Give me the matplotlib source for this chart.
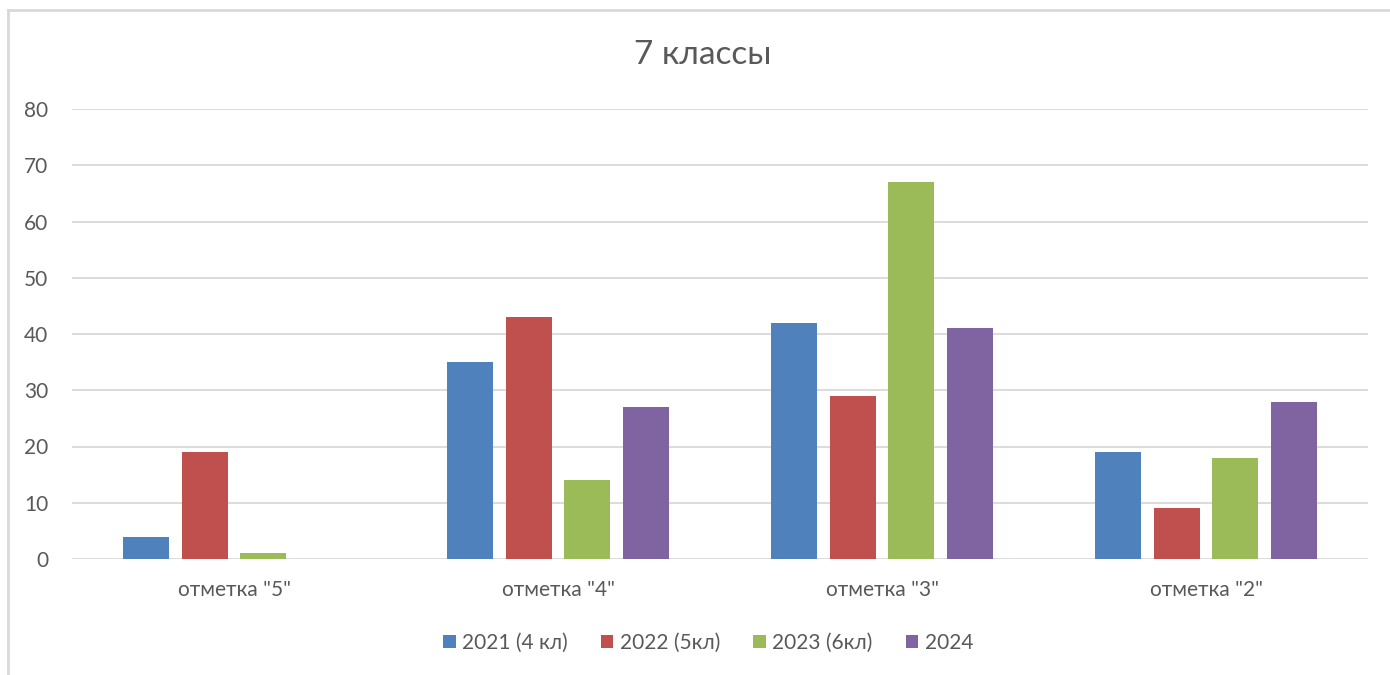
import numpy as np
import matplotlib.pyplot as plt
from matplotlib.lines import Line2D

categories = ['отметка "5"', 'отметка "4"', 'отметка "3"', 'отметка "2"']
series = ['2021 (4 кл)', '2022 (5кл)', '2023 (6кл)', '2024']
v2021 = [4, 35, 42, 19]
v2022 = [19, 43, 29, 9]
v2023 = [1, 14, 67, 18]
v2024 = [0, 27, 41, 28]
colors = ['#4F81BD', '#C0504D', '#9BBB59', '#8064A2']

plt.rcParams['font.family'] = ['Lato', 'DejaVu Sans']

fig = plt.figure(figsize=(13.9, 6.75), dpi=100)
ax = fig.add_axes([72/1390, 1 - 559/675, 1296/1390, 450/675])

x = np.arange(len(categories))
step = 0.182
width = 0.142
for i, (vals, name) in enumerate(zip([v2021, v2022, v2023, v2024], series)):
    ax.bar(x + (i - 1.5) * step, vals, width, color=colors[i], label=name, zorder=3)

ax.set_xlim(-0.5, len(categories) - 0.5)
ax.set_ylim(0, 80)
ax.set_yticks(range(0, 81, 10))
ax.set_xticks(x)
ax.set_xticklabels(categories)
ax.grid(axis='y', color='#d9d9d9', linewidth=1.3, zorder=0)
for s in ax.spines.values():
    s.set_visible(False)
ax.tick_params(axis='both', length=0, labelsize=15, labelcolor='#595959')
ax.tick_params(axis='y', pad=17)
ax.tick_params(axis='x', pad=15)

fig.text(703/1390, 1 - 55/675, '7 классы', ha='center', va='center',
         fontsize=24, color='#595959')

fig.legend(loc='center', bbox_to_anchor=(708/1390, 1 - 643/675), ncol=4,
           frameon=False, fontsize=15, labelcolor='#595959',
           handlelength=0.6, handleheight=0.6, handletextpad=0.3, columnspacing=1.6)

# outer frame of the chart object
fig.add_artist(Line2D([8/1390, 8/1390], [0, 1 - 10/675], color='#d9d9d9', linewidth=2))
fig.add_artist(Line2D([8/1390, 1], [1 - 10/675, 1 - 10/675], color='#d9d9d9', linewidth=2))

fig.savefig('out.png', dpi=100, facecolor='white')
